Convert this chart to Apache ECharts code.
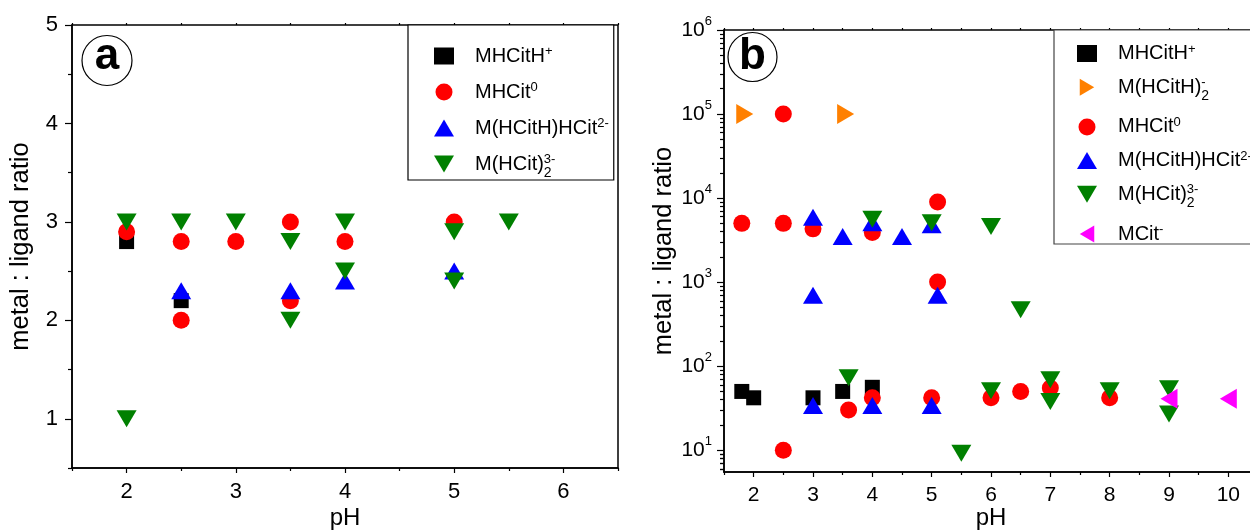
<!DOCTYPE html>
<html>
<head>
<meta charset="utf-8">
<script src="https://cdn.jsdelivr.net/npm/echarts@6/dist/echarts.min.js"></script>
<style>
html, body { margin: 0; padding: 0; background: #fff; }
#chart { width: 1250px; height: 532px; }
</style>
</head>
<body>
<div id="chart"></div>
<script>
// panel a: [pH, metal : ligand ratio]
const aMHCitH = [[2, 2.8], [2.5, 2.2]]
const aMHCit = [[2, 2.9], [2.5, 2.8], [2.5, 2.0], [3, 2.8], [3.5, 3.0], [3.5, 2.2], [4, 2.8], [5, 3.0]]
const aMHCitHHCit = [[2.5, 2.3], [3.5, 2.3], [4, 2.4], [5, 2.5]]
const aMHCit2 = [[2, 3.0], [2, 1.0], [2.5, 3.0], [3, 3.0], [3.5, 2.8], [3.5, 2.0], [4, 3.0], [4, 2.5], [5, 2.9], [5, 2.4], [5.5, 3.0]]

// panel b: [pH, metal : ligand ratio] (log scale)
const bMHCitH = [[1.8, 50], [2, 42], [3, 42], [3.5, 50], [4, 56]]
const bMHCitH2 = [[1.85, 100000], [3.55, 100000]]
const bMHCit = [[1.8, 5000], [2.5, 100000], [2.5, 5000], [2.5, 10], [3, 4300], [3.6, 30], [4, 3900], [4, 42], [5, 42], [5.1, 9000], [5.1, 1000], [6, 42], [6.5, 50], [7, 55], [8, 42]]
const bMHCitHHCit = [[3, 5900], [3, 700], [3, 34], [3.5, 3500], [4, 5100], [4, 34], [4.5, 3500], [5, 4800], [5, 34], [5.1, 700]]
const bMHCit2 = [[3.6, 73], [4, 5600], [5, 5100], [5.5, 9.2], [6, 4600], [6, 51], [6.5, 470], [7, 69], [7, 38], [8, 51], [9, 54], [9, 27]]
const bMCit = [[9, 41], [10, 41]]

// ticks
const aXMajor = [2, 3, 4, 5, 6]
const aXMinor = [1.5, 2.5, 3.5, 4.5, 5.5, 6.5]
const aYMajor = [1, 2, 3, 4, 5]
const aYMinor = [0.5, 1.5, 2.5, 3.5, 4.5]
const bXMajor = [2, 3, 4, 5, 6, 7, 8, 9, 10]
const bXMinor = [1.5, 2.5, 3.5, 4.5, 5.5, 6.5, 7.5, 8.5, 9.5, 10.5]
const bYMajor = [10, 100, 1000, 10000, 100000, 1000000]
const bYMinor = []
for (let d = 1; d <= 100000; d *= 10) {
  for (let k = 2; k <= 9; k++) bYMinor.push(k * d)
}
bYMinor.push(6, 7, 8, 9)

const FONT = 'Liberation Sans'

const legendText = {
  'MHCitH+': '{g| }{t|MHCitH}{sp|+}',
  'MHCit0': '{g| }{t|MHCit}{sp|0}',
  'M(HCitH)HCit2-': '{g| }{t|M(HCitH)HCit}{sp|2-}',
  'M(HCit)2 3-': '{g| }{t|M(HCit)}{sb|2}{sp|3-}',
  'M(HCitH)2-': '{g| }{t|M(HCitH)}{sb|2}{sp|-}',
  'MCit-': '{g| }{t|MCit}{sp|-}'
}
const legendRich = {
  g: { width: 16 },
  t: { fontSize: 20, lineHeight: 26, fontFamily: FONT, color: '#000' },
  sp: { fontSize: 13, height: 17, verticalAlign: 'top', fontFamily: FONT, color: '#000' },
  sb: { fontSize: 14, height: 8, width: 0, verticalAlign: 'bottom', fontFamily: FONT, color: '#000' }
}

const marks = {
  square: { symbol: 'rect', size: 15, rotate: 0, icon: 'rect' },
  circle: { symbol: 'circle', size: 17, rotate: 0, icon: 'circle' },
  up: { symbol: 'triangle', size: [20, 17], rotate: 0, icon: 'path://M10,0L20,17L0,17Z' },
  down: { symbol: 'triangle', size: [20, 17], rotate: 180, icon: 'path://M0,0L20,0L10,17Z' },
  right: { symbol: 'triangle', size: [20, 17], rotate: -90, icon: 'path://M0,0L17,10L0,20Z' },
  left: { symbol: 'triangle', size: [20, 17], rotate: 90, icon: 'path://M17,0L17,20L0,10Z' }
}

function dots(name, data, kind, color, xi, yi) {
  const m = marks[kind]
  return {
    type: 'scatter',
    name: name,
    data: data,
    xAxisIndex: xi,
    yAxisIndex: yi,
    symbol: m.symbol,
    symbolSize: m.size,
    symbolRotate: m.rotate,
    itemStyle: { color: color, opacity: 1 },
    emphasis: { disabled: true },
    silent: true
  }
}

function legendItem(name, kind, color) {
  const m = marks[kind]
  return { name: name, icon: m.icon, itemStyle: { color: color } }
}

function plainTicks(values, len) {
  return { show: true, customValues: values, length: len, lineStyle: { color: '#000', width: 1.2 } }
}

const blackLine = { show: true, lineStyle: { color: '#000', width: 1.5 } }

const chart = echarts.init(document.getElementById('chart'), null, { renderer: 'canvas' })

const option = {
  animation: false,
  backgroundColor: '#fff',
  textStyle: { fontFamily: FONT },
  grid: [
    { left: 72, right: 632, top: 25, bottom: 64, show: true, borderColor: '#000', borderWidth: 1.5, outerBoundsMode: 'none' },
    { left: 724, right: -8, top: 30, bottom: 60, show: true, borderColor: '#000', borderWidth: 1.5, outerBoundsMode: 'none' }
  ],
  xAxis: [
    // panel a
    {
      type: 'value', gridIndex: 0, position: 'bottom', min: 1.5, max: 6.5,
      axisLine: blackLine,
      axisTick: plainTicks(aXMajor, 5),
      axisLabel: { customValues: aXMajor, fontSize: 22, color: '#000', margin: 13 },
      splitLine: { show: false },
      name: 'pH', nameLocation: 'middle', nameGap: 38, nameMoveOverlap: false,
      nameTextStyle: { fontSize: 24, color: '#000' }
    },
    {
      type: 'value', gridIndex: 0, position: 'bottom', min: 1.5, max: 6.5,
      axisLine: { show: false }, axisTick: plainTicks(aXMinor, 3),
      axisLabel: { show: false }, splitLine: { show: false }
    },
    {
      type: 'value', gridIndex: 0, position: 'top', min: 1.5, max: 6.5,
      axisLine: { show: false }, axisTick: plainTicks(aXMajor.concat(aXMinor), 2),
      axisLabel: { show: false }, splitLine: { show: false }
    },
    // panel b
    {
      type: 'value', gridIndex: 1, position: 'bottom', min: 1.5, max: 10.5,
      axisLine: blackLine,
      axisTick: plainTicks(bXMajor, 5),
      axisLabel: { customValues: bXMajor, fontSize: 21, color: '#000', margin: 13 },
      splitLine: { show: false },
      name: 'pH', nameLocation: 'middle', nameGap: 34, nameMoveOverlap: false,
      nameTextStyle: { fontSize: 24, color: '#000' }
    },
    {
      type: 'value', gridIndex: 1, position: 'bottom', min: 1.5, max: 10.5,
      axisLine: { show: false }, axisTick: plainTicks(bXMinor, 3),
      axisLabel: { show: false }, splitLine: { show: false }
    },
    {
      type: 'value', gridIndex: 1, position: 'top', min: 1.5, max: 10.5,
      axisLine: { show: false }, axisTick: plainTicks(bXMajor.concat(bXMinor), 2),
      axisLabel: { show: false }, splitLine: { show: false }
    }
  ],
  yAxis: [
    // panel a
    {
      type: 'value', gridIndex: 0, position: 'left', min: 0.5, max: 5,
      axisLine: blackLine,
      axisTick: plainTicks(aYMajor, 7),
      axisLabel: { customValues: aYMajor, fontSize: 22, color: '#000', margin: 14 },
      splitLine: { show: false },
      name: 'metal : ligand ratio', nameLocation: 'middle', nameRotate: 90, nameGap: 38, nameMoveOverlap: false,
      nameTextStyle: { fontSize: 25.5, color: '#000' }
    },
    {
      type: 'value', gridIndex: 0, position: 'left', min: 0.5, max: 5,
      axisLine: { show: false }, axisTick: plainTicks(aYMinor, 4),
      axisLabel: { show: false }, splitLine: { show: false }
    },
    // panel b
    {
      type: 'log', logBase: 10, gridIndex: 1, position: 'left', min: 5.5, max: 1000000,
      axisLine: blackLine,
      axisTick: plainTicks(bYMajor, 7),
      axisLabel: {
        customValues: bYMajor, margin: 12,
        formatter: function (v) {
          const e = Math.round(Math.log10(v))
          if (Math.abs(Math.pow(10, e) - v) > 1e-6 * v) return ''
          return '{m|10}{s|' + e + '}'
        },
        rich: {
          m: { fontSize: 21, lineHeight: 28, color: '#000', fontFamily: FONT },
          s: { fontSize: 13, height: 11, verticalAlign: 'top', color: '#000', fontFamily: FONT }
        }
      },
      splitLine: { show: false },
      name: 'metal : ligand ratio', nameLocation: 'middle', nameRotate: 90, nameGap: 47, nameMoveOverlap: false,
      nameTextStyle: { fontSize: 25.5, color: '#000' }
    },
    {
      type: 'log', logBase: 10, gridIndex: 1, position: 'left', min: 5.5, max: 1000000,
      axisLine: { show: false }, axisTick: plainTicks(bYMinor, 4),
      axisLabel: { show: false }, splitLine: { show: false }
    }
  ],
  legend: [
    {
      orient: 'vertical', left: 408, top: 25,
      padding: [20, 5, 0, 26], itemGap: 15, itemWidth: 20, itemHeight: 17,
      backgroundColor: '#fff', borderColor: '#000', borderWidth: 1.2,
      selectedMode: false,
      formatter: function (n) { return legendText[n] },
      textStyle: { rich: legendRich },
      data: [
        legendItem('MHCitH+', 'square', '#000000'),
        legendItem('MHCit0', 'circle', '#ff0000'),
        legendItem('M(HCitH)HCit2-', 'up', '#0000ff'),
        legendItem('M(HCit)2 3-', 'down', '#008000')
      ]
    },
    {
      orient: 'vertical', left: 1054, top: 30,
      padding: [12.5, 5, 0, 23], itemGap: 12.7, itemWidth: 20, itemHeight: 17,
      backgroundColor: '#fff', borderColor: '#444', borderWidth: 1.2,
      selectedMode: false,
      formatter: function (n) { return legendText[n] },
      textStyle: { rich: legendRich },
      data: [
        legendItem('MHCitH+', 'square', '#000000'),
        legendItem('M(HCitH)2-', 'right', '#ff8000'),
        legendItem('MHCit0', 'circle', '#ff0000'),
        legendItem('M(HCitH)HCit2-', 'up', '#0000ff'),
        legendItem('M(HCit)2 3-', 'down', '#008000'),
        legendItem('MCit-', 'left', '#ff00ff')
      ]
    }
  ],
  graphic: [
    { type: 'circle', shape: { cx: 107, cy: 60.5, r: 25 }, style: { fill: 'none', stroke: '#000', lineWidth: 1.2 } },
    { type: 'text', x: 107, y: 57, style: { text: 'a', fontSize: 44, fontWeight: 'bold', fontFamily: FONT, fill: '#000', align: 'center', verticalAlign: 'middle' } },
    { type: 'circle', shape: { cx: 752.5, cy: 57, r: 24.5 }, style: { fill: 'none', stroke: '#000', lineWidth: 1.2 } },
    { type: 'text', x: 752.5, y: 57, style: { text: 'b', fontSize: 44, fontWeight: 'bold', fontFamily: FONT, fill: '#000', align: 'center', verticalAlign: 'middle' } }
  ],
  series: [
    dots('MHCitH+', aMHCitH, 'square', '#000000', 0, 0),
    dots('MHCit0', aMHCit, 'circle', '#ff0000', 0, 0),
    dots('M(HCitH)HCit2-', aMHCitHHCit, 'up', '#0000ff', 0, 0),
    dots('M(HCit)2 3-', aMHCit2, 'down', '#008000', 0, 0),

    dots('MHCitH+', bMHCitH, 'square', '#000000', 3, 2),
    dots('M(HCitH)2-', bMHCitH2, 'right', '#ff8000', 3, 2),
    dots('MHCit0', bMHCit, 'circle', '#ff0000', 3, 2),
    dots('M(HCitH)HCit2-', bMHCitHHCit, 'up', '#0000ff', 3, 2),
    dots('M(HCit)2 3-', bMHCit2, 'down', '#008000', 3, 2),
    dots('MCit-', bMCit, 'left', '#ff00ff', 3, 2)
  ]
}

chart.setOption(option)
</script>
</body>
</html>
